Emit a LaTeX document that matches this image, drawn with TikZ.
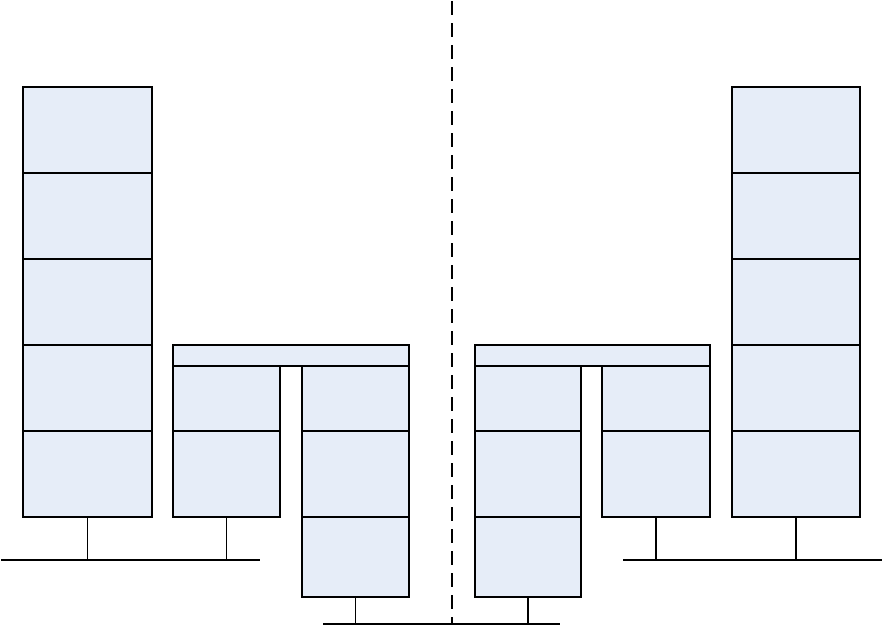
\documentclass[tikz,border=0pt]{standalone}
\begin{document}
\begin{tikzpicture}[x=1pt,y=-1pt,
  cell/.style={draw=black, fill=cellfill, line width=1.4pt, inner sep=0pt, outer sep=0pt, anchor=north west},
  stem/.style={draw=black, line width=1.3pt},
  net/.style={draw=black, line width=2.6pt},
  divider/.style={draw=black, line width=2.3pt, dash pattern=on 14pt off 8pt}]
\definecolor{cellfill}{RGB}{230,237,248}
\useasboundingbox (0,0) rectangle (883,625);
% left stack
\foreach \i/\y in {1/87,2/173,3/259,4/345,5/431}{
  \node[cell, minimum width=129pt, minimum height=86pt] (L\i) at (23,\y) {};
}
% right stack
\foreach \i/\y in {1/87,2/173,3/259,4/345,5/431}{
  \node[cell, minimum width=128pt, minimum height=86pt] (R\i) at (732,\y) {};
}
% left group
\node[cell, minimum width=236pt, minimum height=21pt] (GLh) at (173,345) {};
\node[cell, minimum width=107pt, minimum height=65pt] (GLa1) at (173,366) {};
\node[cell, minimum width=107pt, minimum height=86pt] (GLa2) at (173,431) {};
\node[cell, minimum width=107pt, minimum height=65pt] (GLb1) at (302,366) {};
\node[cell, minimum width=107pt, minimum height=86pt] (GLb2) at (302,431) {};
\node[cell, minimum width=107pt, minimum height=80pt] (GLb3) at (302,517) {};
% right group
\node[cell, minimum width=235pt, minimum height=21pt] (GRh) at (475,345) {};
\node[cell, minimum width=106pt, minimum height=65pt] (GRa1) at (475,366) {};
\node[cell, minimum width=106pt, minimum height=86pt] (GRa2) at (475,431) {};
\node[cell, minimum width=106pt, minimum height=80pt] (GRa3) at (475,517) {};
\node[cell, minimum width=108pt, minimum height=65pt] (GRb1) at (602,366) {};
\node[cell, minimum width=108pt, minimum height=86pt] (GRb2) at (602,431) {};
% networks
\coordinate (nL1) at (1,560);
\coordinate (nL2) at (260,560);
\coordinate (nB1) at (323,624);
\coordinate (nB2) at (560,624);
\coordinate (nR1) at (623,560);
\coordinate (nR2) at (882,560);
\coordinate (dT) at (452,1);
\coordinate (dB) at (452,624);
\draw[divider] (dT) -- (dB);
\draw[net] (nL1) -- (nL2);
\draw[net] (nB1) -- (nB2);
\draw[net] (nR1) -- (nR2);
% stems
\draw[stem] (L5.south) -- (L5.south |- nL1);
\draw[stem] (GLa2.south) -- (GLa2.south |- nL1);
\draw[stem] (GLb3.south) -- (GLb3.south |- nB1);
\draw[stem] (GRa3.south) -- (GRa3.south |- nB1);
\draw[stem] (GRb2.south) -- (GRb2.south |- nR1);
\draw[stem] (R5.south) -- (R5.south |- nR1);
\end{tikzpicture}
\end{document}
